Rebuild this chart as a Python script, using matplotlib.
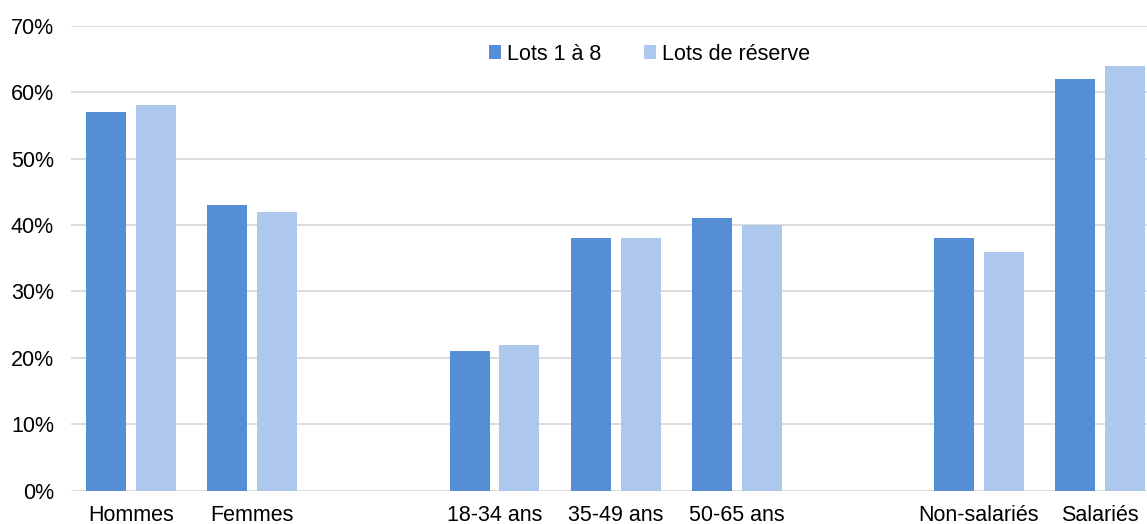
import numpy as np
import matplotlib
matplotlib.use("Agg")
import matplotlib.pyplot as plt
from matplotlib.ticker import FuncFormatter

plt.rcParams['font.family'] = ['Liberation Sans', 'DejaVu Sans']

# Categories (empty strings leave a gap between groups)
categories = ["Hommes", "Femmes", "", "18-34 ans", "35-49 ans", "50-65 ans",
              "", "Non-salariés", "Salariés"]
lots_1_8 = [57, 43, np.nan, 21, 38, 41, np.nan, 38, 62]
lots_reserve = [58, 42, np.nan, 22, 38, 40, np.nan, 36, 64]
series_names = ["Lots 1 à 8", "Lots de réserve"]
yticks = [0, 10, 20, 30, 40, 50, 60, 70]

c_dark = "#558ed5"
c_light = "#adc8ec"
grid_c = "#d9d9d9"

W, H = 1147, 524
fig = plt.figure(figsize=(W / 100, H / 100), dpi=100)
left, right = 70.7, 1160.5
bottom, top = 490.7, 25.7
ax = fig.add_axes([left / W, (H - bottom) / H, (right - left) / W, (bottom - top) / H])

x = np.arange(len(categories))
bw = 0.33
off = 0.206
ax.bar(x - off, lots_1_8, width=bw, color=c_dark, label=series_names[0], zorder=3)
ax.bar(x + off, lots_reserve, width=bw, color=c_light, label=series_names[1], zorder=3)

ax.set_xlim(-0.5, len(categories) - 0.5)
ax.set_ylim(0, 70)
ax.set_yticks(yticks)
ax.yaxis.set_major_formatter(FuncFormatter(lambda v, p: f"{int(v)}%"))
ax.set_xticks(x)
ax.set_xticklabels(categories)
ax.tick_params(axis='both', length=0, labelsize=15.5, colors="#000000")
ax.tick_params(axis='y', pad=12)
ax.tick_params(axis='x', pad=10)
ax.grid(axis='y', color=grid_c, linewidth=1.3, zorder=0)
for s in ax.spines.values():
    s.set_visible(False)

fig.legend(loc='center', bbox_to_anchor=(649.5 / W, (H - 54) / H),
           ncol=2, frameon=False, fontsize=15.5,
           handlelength=0.57, handleheight=0.57, handletextpad=0.25,
           columnspacing=2.0, borderaxespad=0, borderpad=0)

fig.savefig("out.png", dpi=100, facecolor="white")
